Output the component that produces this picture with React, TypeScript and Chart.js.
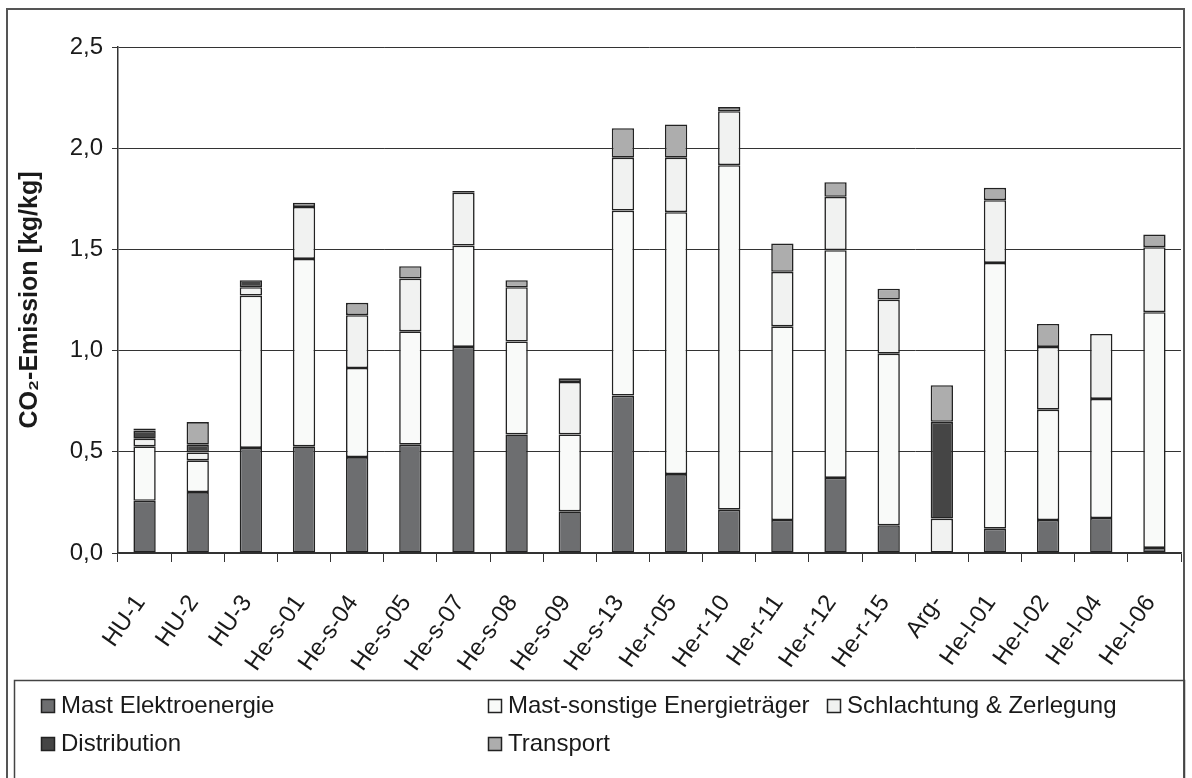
import React, { useEffect, useRef } from "react";
import { Chart, registerables } from "chart.js";

Chart.register(...registerables);

const categories = [
  "HU-1", "HU-2", "HU-3", "He-s-01", "He-s-04", "He-s-05", "He-s-07", "He-s-08", "He-s-09", "He-s-13",
  "He-r-05", "He-r-10", "He-r-11", "He-r-12", "He-r-15", "Arg-", "He-l-01", "He-l-02", "He-l-04", "He-l-06",
];
const mastElektro = [0.258, 0.301, 0.519, 0.527, 0.474, 0.535, 1.018, 0.586, 0.206, 0.778, 0.39, 0.214, 0.163, 0.371, 0.137, 0, 0.12, 0.163, 0.173, 0.025];
const mastSonstige = [0.269, 0.157, 0.753, 0.926, 0.44, 0.56, 0.501, 0.459, 0.38, 0.914, 1.294, 1.702, 0.957, 1.125, 0.848, 0, 1.313, 0.545, 0.588, 1.165];
const schlachtung = [0.038, 0.039, 0.041, 0.257, 0.261, 0.261, 0.261, 0.268, 0.259, 0.261, 0.269, 0.267, 0.269, 0.264, 0.267, 0.17, 0.31, 0.31, 0.321, 0.321];
const distribution = [0.04, 0.038, 0.035, 0, 0, 0, 0.008, 0, 0, 0, 0, 0, 0, 0, 0, 0.478, 0, 0, 0, 0];
const transport = [0.01, 0.112, 0, 0.02, 0.061, 0.061, 0, 0.035, 0.018, 0.146, 0.164, 0.02, 0.14, 0.072, 0.054, 0.181, 0.061, 0.114, 0, 0.062];

const seriesNames = ["Mast Elektroenergie", "Mast-sonstige Energieträger", "Schlachtung & Zerlegung", "Distribution", "Transport"];
const seriesColors = ["#6d6e70", "#f9faf9", "#f1f2f1", "#454545", "#adadad"];
const yAxisTitle = "CO₂-Emission [kg/kg]";
const yMin = 0;
const yMax = 2.5;
const yStep = 0.5;

const FONT = "'Liberation Sans', Arial, sans-serif";

const framePlugin = {
  id: "frameAndLegend",
  beforeDraw(chart: any) {
    const ctx = chart.ctx;
    ctx.save();
    ctx.fillStyle = "#ffffff";
    ctx.fillRect(0, 0, chart.width, chart.height);
    ctx.restore();
  },
  afterDraw(chart: any) {
    const ctx = chart.ctx;
    ctx.save();
    ctx.strokeStyle = "#555";
    ctx.lineWidth = 2;
    ctx.strokeRect(7, 9, 1177, 820);
    ctx.lineWidth = 1.5;
    ctx.strokeStyle = "#444";
    ctx.strokeRect(14.5, 680.5, 1170, 130);
    const pos = [
      [41, 705],
      [488, 705],
      [827, 705],
      [41, 743],
      [488, 743],
    ];
    ctx.font = `24px ${FONT}`;
    ctx.textBaseline = "middle";
    ctx.textAlign = "left";
    chart.data.datasets.forEach((ds: any, i: number) => {
      const [x, y] = pos[i];
      ctx.fillStyle = ds.backgroundColor;
      ctx.fillRect(x, y - 6, 13, 13);
      ctx.lineWidth = 1.5;
      ctx.strokeStyle = "#222";
      ctx.strokeRect(x + 0.5, y - 5.5, 13, 13);
      ctx.fillStyle = "#1a1a1a";
      ctx.fillText(ds.label, x + 20, y + 1);
    });
    ctx.restore();
  },
};

export default function App() {
  const ref = useRef<HTMLCanvasElement | null>(null);
  useEffect(() => {
    if (!ref.current) return;
    const series = [mastElektro, mastSonstige, schlachtung, distribution, transport];
    const chart = new Chart(ref.current, {
      type: "bar",
      data: {
        labels: categories,
        datasets: series.map((data, i) => ({
          label: seriesNames[i],
          data: data.map((v) => (v === 0 ? null : v)),
          backgroundColor: seriesColors[i],
          borderColor: "#222",
          borderWidth: 1.6,
          borderSkipped: false,
          barPercentage: 0.42,
          categoryPercentage: 1,
        })),
      },
      options: {
        animation: false,
        responsive: false,
        devicePixelRatio: 1,
        layout: { padding: { left: 0, right: 11, top: 47, bottom: 0 }, autoPadding: false },
        plugins: { legend: { display: false }, tooltip: { enabled: false } },
        scales: {
          x: {
            stacked: true,
            afterFit: (s: any) => {
              s.height = 225;
              s.paddingLeft = 0;
              s.paddingRight = 0;
            },
            grid: { drawOnChartArea: false, drawTicks: true, tickLength: 9, color: "#333", offset: true },
            border: { display: true, color: "#333", width: 1.5 },
            ticks: {
              autoSkip: false,
              minRotation: 55,
              maxRotation: 55,
              padding: 28,
              labelOffset: -4,
              color: "#1a1a1a",
              font: { family: FONT, size: 24 },
            },
          },
          y: {
            stacked: true,
            min: yMin,
            max: yMax,
            afterFit: (s: any) => {
              s.width = 118;
              s.paddingTop = 0;
              s.paddingBottom = 0;
            },
            ticks: {
              stepSize: yStep,
              padding: 9,
              color: "#1a1a1a",
              font: { family: FONT, size: 24 },
              callback: (v: any) => Number(v).toFixed(1).replace(".", ","),
            },
            grid: { color: "#333", lineWidth: 1, tickLength: 6, tickColor: "#333" },
            border: { display: true, color: "#333", width: 1.5 },
            title: {
              display: true,
              text: yAxisTitle,
              color: "#1a1a1a",
              font: { family: FONT, size: 25, weight: "bold" },
              padding: { top: 15, bottom: 0 },
            },
          },
        },
      },
      plugins: [framePlugin],
    });
    return () => chart.destroy();
  }, []);
  return (
    <div style={{ position: "absolute", left: 0, top: 0, width: 1192, height: 778 }}>
      <canvas ref={ref} width={1192} height={778} style={{ display: "block", width: 1192, height: 778 }} />
    </div>
  );
}
